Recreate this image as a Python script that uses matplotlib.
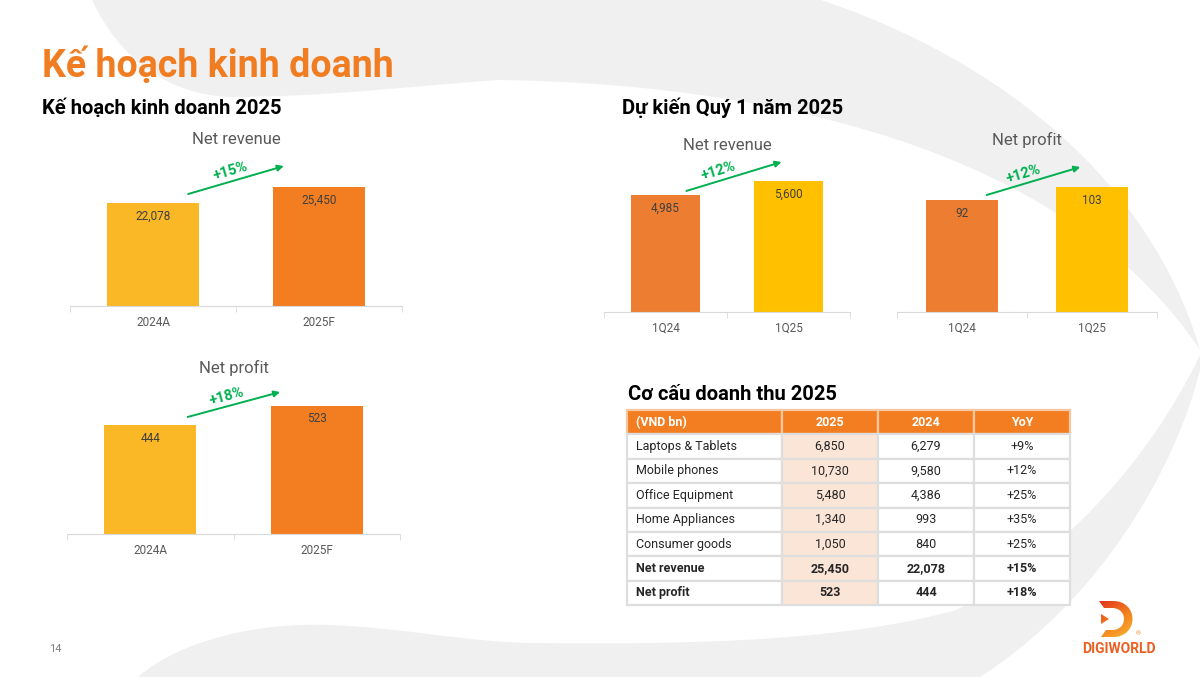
import numpy as np
import matplotlib.pyplot as plt
from matplotlib.path import Path
from matplotlib.patches import PathPatch
from matplotlib.colors import LinearSegmentedColormap

plt.rcParams['font.family'] = ['Roboto', 'DejaVu Sans']

W, H = 1200, 677

# ---- data ----
plan_years = ['2024A', '2025F']
plan_revenue = [22078, 25450]
plan_profit = [444, 523]
plan_revenue_growth = '+15%'
plan_profit_growth = '+18%'

quarters = ['1Q24', '1Q25']
q1_revenue = [4985, 5600]
q1_profit = [92, 103]
q1_revenue_growth = '+12%'
q1_profit_growth = '+12%'

table_header = ['(VND bn)', '2025', '2024', 'YoY']
segments = ['Laptops & Tablets', 'Mobile phones', 'Office Equipment',
            'Home Appliances', 'Consumer goods', 'Net revenue', 'Net profit']
seg_2025 = [6850, 10730, 5480, 1340, 1050, 25450, 523]
seg_2024 = [6279, 9580, 4386, 993, 840, 22078, 444]
seg_yoy = ['+9%', '+12%', '+25%', '+35%', '+25%', '+15%', '+18%']

ORANGE = '#F37E21'
GOLD = '#FAB726'
ORANGE2 = '#ED7D31'
YELLOW = '#FFC000'
GREEN = '#00B050'
GRAY_BG = '#f0f0f0'

fig = plt.figure(figsize=(12, 6.77), dpi=100)
bg = fig.add_axes([0, 0, 1, 1])
bg.axis('off')

# background swooshes
C4 = Path.CURVE4
top_verts = [(92, 0), (120, 60), (170, 95), (230, 97), (330, 97), (420, 85), (500, 80),
             (820, 85), (1080, 170), (1200, 350), (1150, 180), (1000, 60), (821, 0),
             (92, 0), (92, 0)]
top_codes = [Path.MOVETO] + [C4] * 12 + [Path.LINETO, Path.CLOSEPOLY]
bg.add_patch(PathPatch(Path(top_verts, top_codes), fc=GRAY_BG, ec='none'))

bot_verts = [(138, 677), (180, 640), (260, 622), (329, 625), (400, 627), (470, 643), (536, 643),
             (700, 645), (850, 640), (956, 610), (1060, 560), (1150, 460), (1200, 355),
             (1200, 370), (1175, 470), (1100, 600), (980, 677), (138, 677), (138, 677)]
bot_codes = [Path.MOVETO] + [C4] * 12 + [Path.LINETO] + [C4] * 3 + [Path.LINETO, Path.CLOSEPOLY]
bg.add_patch(PathPatch(Path(bot_verts, bot_codes), fc=GRAY_BG, ec='none'))

# titles
bg.text(42, 77, 'Kế hoạch kinh doanh', fontsize=27, fontweight='bold', color='#F07D22', va='baseline')
bg.text(42, 114, 'Kế hoạch kinh doanh 2025', fontsize=14.5, fontweight='bold', color='black', va='baseline')
bg.text(622, 114, 'Dự kiến Quý 1 năm 2025', fontsize=14.5, fontweight='bold', color='black', va='baseline')
bg.text(628, 400, 'Cơ cấu doanh thu 2025', fontsize=14.5, fontweight='bold', color='black', va='baseline')


def bar_chart(box, ymax, labels, values, colors, title, title_y, growth, arrow, text_t):
    left, right, baseline = box
    h = 170
    ax = fig.add_axes([left / W, 1 - baseline / H, (right - left) / W, h / H])
    ax.set_facecolor('none')
    x = np.arange(len(values))
    ax.bar(x, values, width=0.555, color=colors, zorder=2)
    ax.set_xlim(-0.5, len(values) - 0.5)
    ax.set_ylim(0, ymax)
    for s in ['top', 'right', 'left']:
        ax.spines[s].set_visible(False)
    ax.spines['bottom'].set_color('#d9d9d9')
    ax.set_yticks([])
    ax.set_xticks(x, labels)
    ax.tick_params(axis='x', which='major', length=0, pad=7, labelsize=8.5, labelcolor='#595959')
    ax.set_xticks(np.arange(len(values) + 1) - 0.5, minor=True)
    ax.tick_params(axis='x', which='minor', length=4, color='#d9d9d9')
    for xi, v in zip(x, values):
        ax.annotate(f'{v:,}', (xi, v), xytext=(0, -13), textcoords='offset pixels',
                    ha='center', va='center', fontsize=8.5, color='#404040')
    (x0, f0), (x1, f1) = arrow
    p0 = (x0, values[0] * f0)
    p1 = (x1, values[1] * f1)
    ax.annotate('', xy=p1, xytext=p0, annotation_clip=False,
                arrowprops=dict(arrowstyle='-|>', color=GREEN, lw=1.4, mutation_scale=9,
                                shrinkA=0, shrinkB=0))
    d0 = ax.transData.transform(p0)
    d1 = ax.transData.transform(p1)
    ang = np.degrees(np.arctan2(d1[1] - d0[1], d1[0] - d0[0]))
    tx = p0[0] + text_t * (p1[0] - p0[0])
    ty = p0[1] + text_t * (p1[1] - p0[1])
    off = 10
    ax.annotate(growth, (tx, ty), xytext=(-np.sin(np.radians(ang)) * off, np.cos(np.radians(ang)) * off),
                textcoords='offset pixels', rotation=ang, rotation_mode='anchor',
                ha='center', va='center', fontsize=10.5, fontweight='bold', color=GREEN,
                annotation_clip=False)
    bg.text((left + right) / 2, title_y, title, ha='center', va='center', fontsize=12, color='#595959')
    return ax


bar_chart((70, 402, 306), 36360, plan_years, plan_revenue, [GOLD, ORANGE], 'Net revenue', 140,
          plan_revenue_growth, ((0.212, 1.085), (0.788, 1.176)), 0.47)
bar_chart((67, 400, 534), 694.6, plan_years, plan_profit, [GOLD, ORANGE], 'Net profit', 368,
          plan_profit_growth, ((0.225, 1.077), (0.78, 1.109)), 0.45)
bar_chart((604, 850, 312), 7267, quarters, q1_revenue, [ORANGE2, YELLOW], 'Net revenue', 146,
          q1_revenue_growth, ((0.17, 1.038), (0.943, 1.145)), 0.37)
bar_chart((897, 1157, 312), 140.1, quarters, q1_profit, [ORANGE2, YELLOW], 'Net profit', 140,
          q1_profit_growth, ((0.19, 1.048), (0.91, 1.16)), 0.42)

# table
tx0, tx1, ty0, ty1 = 627, 1070, 410, 605
tax = fig.add_axes([tx0 / W, 1 - ty1 / H, (tx1 - tx0) / W, (ty1 - ty0) / H])
tax.axis('off')
cell_text = [[s, f'{a:,}', f'{b:,}', y] for s, a, b, y in zip(segments, seg_2025, seg_2024, seg_yoy)]
widths = np.array([155, 96, 96, 96]) / 443
tbl = tax.table(cellText=cell_text, colLabels=table_header, colWidths=list(widths),
                cellLoc='center', bbox=[0, 0, 1, 1])
tbl.auto_set_font_size(False)
tbl.set_fontsize(9)
n_rows = len(segments)
for (r, c), cell in tbl.get_celld().items():
    cell.set_linewidth(1.6)
    t = cell.get_text()
    if r == 0:
        cell.set_facecolor(ORANGE)
        cell.set_edgecolor('#f7c7a3')
        t.set_color('white')
        t.set_fontweight('bold')
    else:
        cell.set_facecolor('#FBE5D6' if c == 1 else 'white')
        cell.set_edgecolor('#dedede')
        t.set_color('#262626')
        if r >= n_rows - 1:
            t.set_fontweight('bold')
    if c == 0:
        t.set_horizontalalignment('left')
        cell.PAD = 9 / 155

# logo
d_outer = Path([(1099, 601), (1113, 601), (1139, 601), (1139, 637), (1113, 637), (1101, 637),
                (1106, 630), (1112, 630), (1128, 630), (1128, 608), (1112, 608), (1104, 608),
                (1099, 601)],
               [Path.MOVETO, Path.LINETO, C4, C4, C4, Path.LINETO, Path.LINETO, Path.LINETO,
                C4, C4, C4, Path.LINETO, Path.CLOSEPOLY])
d_tri = Path([(1101, 614), (1109, 619), (1101, 624), (1101, 614)],
             [Path.MOVETO, Path.LINETO, Path.LINETO, Path.CLOSEPOLY])
logo_path = Path.make_compound_path(d_outer, d_tri)
logo_patch = PathPatch(logo_path, fc='none', ec='none', transform=bg.transData)
bg.add_patch(logo_patch)
gx, gy = np.meshgrid(np.linspace(0, 1, 80), np.linspace(0, 1, 80))
grad = 0.6 * gy + 0.4 * gx
logo_cmap = LinearSegmentedColormap.from_list('logo', ['#e2341d', '#f2801f', '#fbb832'])
im = bg.imshow(grad, cmap=logo_cmap, extent=(1099, 1136, 637, 601), origin='upper',
               aspect='auto', zorder=3)
im.set_clip_path(logo_patch)
bg.text(1138, 634, '®', fontsize=4.5, color='#f07d22', ha='center', va='center')
bg.text(1119, 649, 'DIGIWORLD', ha='center', va='center', fontsize=10, fontweight='bold', color='#ec5f22')

bg.text(55, 649, '14', ha='center', va='center', fontsize=8, color='#7f7f7f')

bg.set_xlim(0, W)
bg.set_ylim(H, 0)

fig.savefig('out.png', dpi=100)
